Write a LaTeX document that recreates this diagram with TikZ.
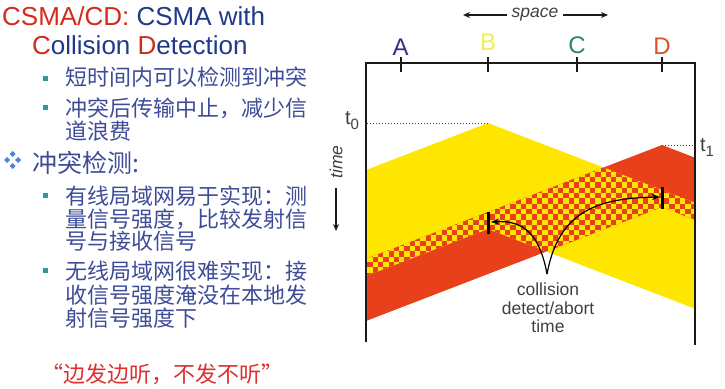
\documentclass[tikz,border=0pt]{standalone}
\usepackage{fontspec}
\setmainfont{Liberation Sans}
\newfontfamily\cjk{Noto Sans CJK SC}
\newfontfamily\cjkfw[RawFeature=+fwid]{Noto Sans CJK SC}
\usetikzlibrary{arrows.meta}
\definecolor{tred}{HTML}{D42A1A}
\definecolor{qred}{HTML}{DC3030}
\definecolor{tblue}{HTML}{1F3A8A}
\definecolor{cjkblue}{HTML}{3E4C98}
\definecolor{bteal}{HTML}{2A9A9A}
\definecolor{dblue}{HTML}{4A80E0}
\definecolor{sigY}{HTML}{FFE600}
\definecolor{sigR}{HTML}{E8401A}
\definecolor{labA}{HTML}{3C2A8C}
\definecolor{labB}{HTML}{F0EE50}
\definecolor{labC}{HTML}{2A8C5A}
\definecolor{labD}{HTML}{E0502A}
\definecolor{frame}{HTML}{1A1A1A}
\definecolor{gtext}{HTML}{404040}
\begin{document}
\begin{tikzpicture}[x=1pt,y=-1pt,
  cjktext/.style={anchor=west,inner sep=0pt,text=cjkblue,font=\cjk\fontsize{22}{26}\selectfont},
  bulletsq/.style={fill=bteal,minimum size=5pt,inner sep=0pt},
  framel/.style={draw=frame,line width=2.4pt},
  tickl/.style={draw=frame,line width=2pt},
  abortl/.style={draw=black,line width=3pt},
  lab/.style={anchor=base,inner sep=0pt,font=\fontsize{24}{28}\selectfont},
  dotl/.style={draw=gtext,dotted,line width=1pt},
  arr/.style={draw=black,line width=1.2pt,-{Stealth[length=8pt,width=6pt]}},
  dia/.style={fill=dblue,draw=none,minimum size=4.2pt,inner sep=0pt,rotate=45}]
\useasboundingbox (0,0) rectangle (725,388);

% ---------- left text ----------
\node[anchor=base west,inner sep=0pt,font=\fontsize{26}{30}\selectfont] (title1) at (2,25)
  {\textcolor{tred}{CSMA/CD:} \textcolor{tblue}{CSMA with}};
\node[anchor=base west,inner sep=0pt,font=\fontsize{26}{30}\selectfont,text=tblue] (title2) at (32,54)
  {\textcolor{tred}{C}ollision \textcolor{tred}{D}etection};

\node[bulletsq] (b1) at (45.5,78) {};
\node[cjktext] (l1) at (65,77) {短时间内可以检测到冲突};
\node[bulletsq] (b2) at (45.5,107.5) {};
\node[cjktext] (l2) at (65,108) {冲突后传输中止，减少信};
\node[cjktext] (l3) at (65,131) {道浪费};

\node[dia] (d1) at (12.7,154) {};
\node[dia] (d2) at (7.2,160) {};
\node[dia] (d3) at (18.2,160) {};
\node[dia] (d4) at (12.7,166) {};
\node[anchor=west,inner sep=0pt,text=cjkblue,font=\cjk\fontsize{25}{29}\selectfont] (sec) at (32,163) {冲突检测:};

\node[bulletsq] (b3) at (45.5,195) {};
\node[cjktext] (l4) at (65,196) {有线局域网易于实现：测};
\node[cjktext] (l5) at (65,219) {量信号强度，比较发射信};
\node[cjktext] (l6) at (65,241) {号与接收信号};
\node[bulletsq] (b4) at (45.5,270) {};
\node[cjktext] (l7) at (65,271) {无线局域网很难实现：接};
\node[cjktext] (l8) at (65,295) {收信号强度淹没在本地发};
\node[cjktext] (l9) at (65,318) {射信号强度下};

\node[anchor=west,inner sep=0pt,text=qred,font=\cjkfw\fontsize{22}{26}\selectfont] (quote) at (41,374) {“边发边听，不发不听”};

% ---------- signals ----------
\fill[sigY] (366,170) -- (488,123) -- (695,202.7) -- (695,308.7) -- (488,229) -- (366,276) -- cycle;
\fill[sigR] (366,259) -- (662,145) -- (695,157.7) -- (695,219.7) -- (662,207) -- (366,321) -- cycle;
\begin{scope}
  \clip (366,170) -- (488,123) -- (695,202.7) -- (695,308.7) -- (488,229) -- (366,276) -- cycle;
  \clip (366,259) -- (662,145) -- (695,157.7) -- (695,219.7) -- (662,207) -- (366,321) -- cycle;
  \fill[sigY] (360,140) rectangle (700,285);
  \foreach \j in {0,...,27}{
    \pgfmathtruncatemacro\off{mod(\j,2)}
    \foreach \i in {0,2,...,64}{
      \fill[sigR] ({362+(\i+\off)*5.3},{140+\j*5.3}) rectangle ++(5.3,5.3);
    }
  }
\end{scope}

% ---------- frame ----------
\coordinate (fl) at (366,342);
\coordinate (ftl) at (366,63);
\coordinate (ftr) at (695,63);
\coordinate (fr) at (695,345);
\draw[framel,line join=miter] (fl) -- (ftl) -- (ftr) -- (fr);

\coordinate (tA) at (400.5,57);
\coordinate (tB) at (488,57);
\coordinate (tC) at (577,57);
\coordinate (tD) at (662,57);
\draw[tickl] (tA) -- ++(0,15);
\draw[tickl] (tB) -- ++(0,15);
\draw[tickl] (tC) -- ++(0,15);
\draw[tickl] (tD) -- ++(0,15);

\node[lab,text=labA] (A) at (400.5,55) {A};
\node[lab,text=labB] (B) at (488,50) {B};
\node[lab,text=labC] (C) at (577,53) {C};
\node[lab,text=labD] (D) at (662,54) {D};

% space arrow
\node[inner sep=0pt,text=gtext,font=\itshape\fontsize{17.5}{20}\selectfont] (space) at (535,15) {space};
\coordinate (spL) at (463,15);
\coordinate (spR) at (608,15);
\draw[draw=frame,line width=1.2pt,-{Stealth[length=7pt,width=6pt]}] ([xshift=-4pt]space.west) -- (spL);
\draw[draw=frame,line width=1.2pt,-{Stealth[length=7pt,width=6pt]}] ([xshift=4pt]space.east) -- (spR);

% time arrow
\node[inner sep=0pt,rotate=90,text=gtext,font=\itshape\fontsize{17.5}{20}\selectfont] (time) at (336,162) {time};
\coordinate (tmS) at (336,188);
\coordinate (tmE) at (336,231);
\draw[draw=frame,line width=1.2pt,-{Stealth[length=7pt,width=6pt]}] (tmS) -- (tmE);

% t0, t1
\coordinate (t0a) at (367,123);
\coordinate (t0b) at (488,123);
\draw[dotl] (t0a) -- (t0b);
\node[anchor=base,inner sep=0pt,text=gtext,font=\fontsize{20}{24}\selectfont] (t0) at (352,124) {t\raisebox{-5pt}{\fontsize{15}{18}\selectfont 0}};
\coordinate (t1a) at (662,145);
\coordinate (t1b) at (694,145);
\draw[dotl] (t1a) -- (t1b);
\node[anchor=base,inner sep=0pt,text=gtext,font=\fontsize{20}{24}\selectfont] (t1) at (707,151) {t\raisebox{-5pt}{\fontsize{15}{18}\selectfont 1}};

% abort ticks
\coordinate (abB1) at (488,212);
\coordinate (abB2) at (488,234);
\coordinate (abD1) at (662,187);
\coordinate (abD2) at (662,209);
\draw[abortl] (abB1) -- (abB2);
\draw[abortl] (abD1) -- (abD2);

% collision label and arrows
\node[align=center,inner sep=0pt,text=gtext,font=\fontsize{17.5}{18.5}\selectfont] (coll) at (548,308) {collision\\detect/abort\\time};
\coordinate (cj) at (547,274);
\coordinate (hB) at (491,222);
\coordinate (hD) at (660,197);
\draw[arr] (cj) .. controls (540,236) and (525,220) .. (hB);
\draw[arr] (cj) .. controls (558,215) and (592,198) .. (hD);
\end{tikzpicture}
\end{document}
